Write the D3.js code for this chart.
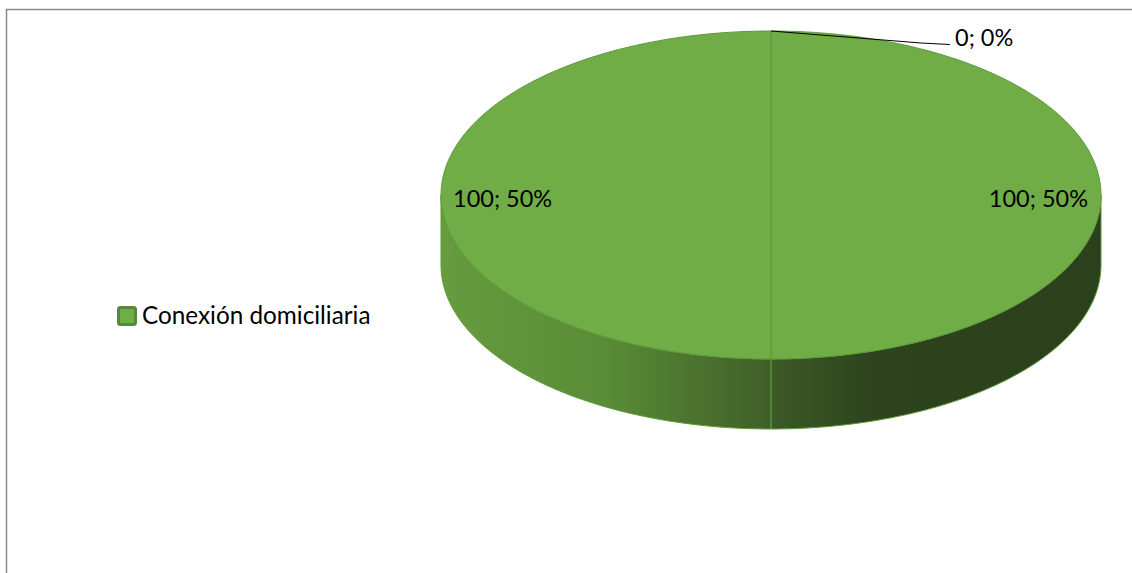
<!DOCTYPE html>
<html>
<head>
<meta charset="utf-8">
<script src="https://cdn.jsdelivr.net/npm/d3@7"></script>
<style>
  html, body { margin: 0; padding: 0; background: #fff; }
  svg { display: block; }
  text { font-family: Lato, "Open Sans", sans-serif; fill: #000; }
</style>
</head>
<body>
<script>
// ---- data ----
const seriesName = "Conexión domiciliaria";
const categories = ["Categoría A", "Categoría B", "Categoría C"];
const values = [0, 100, 100];

// ---- layout ----
const W = 1132, H = 573;
const cx = 771, cy = 195, rx = 330, ry = 164, depth = 70;
const topColor = "#70AD47";
const edgeColor = "#5f9a3b";

const svg = d3.select("body").append("svg").attr("width", W).attr("height", H);

// chart border (extends beyond right/bottom)
svg.append("rect").attr("x", 6.5).attr("y", 9.5).attr("width", W + 20).attr("height", H + 20)
  .attr("fill", "none").attr("stroke", "#8a8a8a").attr("stroke-width", 1.5);

const defs = svg.append("defs");
const grad = defs.append("linearGradient").attr("id", "sideGrad")
  .attr("gradientUnits", "userSpaceOnUse")
  .attr("x1", cx - rx).attr("x2", cx + rx).attr("y1", 0).attr("y2", 0);
[[0, "#679b3e"], [0.25, "#598c36"], [0.5, "#3f5e28"], [0.5, "#3c5a26"], [0.66, "#2c431d"], [1, "#2b411c"]]
  .forEach(([o, c]) => grad.append("stop").attr("offset", o).attr("stop-color", c));

const pie = d3.pie().sort(null).startAngle(0).endAngle(2 * Math.PI).value(d => d);
const arcs = pie(values);

const px = a => cx + rx * Math.sin(a);
const py = a => cy - ry * Math.cos(a);

// side walls (front half: angles between PI/2 and 3PI/2)
const sideG = svg.append("g");
arcs.forEach(d => {
  const a0 = Math.max(d.startAngle, Math.PI / 2);
  const a1 = Math.min(d.endAngle, 3 * Math.PI / 2);
  if (a1 <= a0) return;
  const n = 80;
  const angles = d3.range(n + 1).map(i => a0 + (a1 - a0) * i / n);
  const topPts = angles.map(a => [px(a), py(a)]);
  const botPts = angles.slice().reverse().map(a => [px(a), py(a) + depth]);
  sideG.append("path")
    .attr("d", d3.line()(topPts.concat(botPts)) + "Z")
    .attr("fill", "url(#sideGrad)")
    .attr("stroke", edgeColor).attr("stroke-width", 1).attr("stroke-linejoin", "round");
});

// top faces
const topG = svg.append("g");
arcs.forEach(d => {
  if (d.endAngle - d.startAngle <= 0) return;
  const n = 120;
  const pts = d3.range(n + 1).map(i => {
    const a = d.startAngle + (d.endAngle - d.startAngle) * i / n;
    return [px(a), py(a)];
  });
  topG.append("path")
    .attr("d", d3.line()([[cx, cy]].concat(pts)) + "Z")
    .attr("fill", topColor)
    .attr("stroke", edgeColor).attr("stroke-width", 1).attr("stroke-linejoin", "round");
});

// data labels
const total = d3.sum(values);
const fontSize = 23.5;
const labelG = svg.append("g").attr("font-size", fontSize);
arcs.forEach(d => {
  const pct = Math.round(d.data / total * 100);
  const txt = d.data + "; " + pct + "%";
  const mid = (d.startAngle + d.endAngle) / 2;
  if (d.data === 0) {
    const sx = px(mid), sy = py(mid);
    const lx = sx + 184, ly = sy + 14;
    labelG.append("path")
      .attr("d", d3.line()([[sx, sy], [sx + 150, sy + 12], [lx - 5, ly - 0.5]]))
      .attr("fill", "none").attr("stroke", "#000").attr("stroke-width", 1);
    labelG.append("text").attr("x", lx).attr("y", ly + 1).text(txt);
  } else {
    const ex = px(mid), ey = py(mid);
    const right = Math.sin(mid) > 0;
    labelG.append("text")
      .attr("x", right ? ex - 13 : ex + 12)
      .attr("y", ey + 12)
      .attr("text-anchor", right ? "end" : "start")
      .text(txt);
  }
});

// legend
const leg = svg.append("g").attr("transform", "translate(118,307)");
leg.append("rect").attr("x", 0.5).attr("y", 0.5).attr("width", 17).attr("height", 17).attr("rx", 2)
  .attr("fill", topColor).attr("stroke", "#55883a").attr("stroke-width", 3);
leg.append("text").attr("x", 24).attr("y", 17).attr("font-size", 24.3).text(seriesName);
</script>
</body>
</html>
